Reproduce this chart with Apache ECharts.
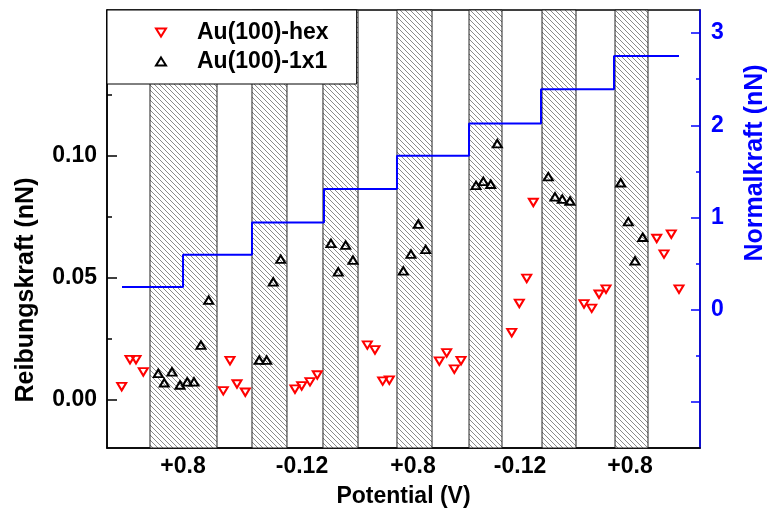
<!DOCTYPE html>
<html><head><meta charset="utf-8">
<script src="https://cdn.jsdelivr.net/npm/echarts@6/dist/echarts.min.js"></script>
<style>html,body{margin:0;padding:0;background:#fff}#c{width:767px;height:513px}</style>
</head><body><div id="c"></div>
<script>
// Au(100)-hex (red, down triangles): x position (arbitrary time units 0..100), friction force (nN)
const hexX = [2.48, 3.88, 4.89, 6.12, 19.61, 20.74, 21.92, 23.32, 31.70, 32.83, 34.23, 35.46, 43.90, 45.19, 46.49, 47.61, 56.04, 57.28, 58.57, 59.70, 68.25, 69.53, 70.78, 71.89, 80.44, 81.74, 82.97, 84.15, 92.70, 93.93, 95.16, 96.46];
const hexY = [0.0052, 0.0163, 0.0163, 0.0113, 0.0035, 0.0159, 0.0063, 0.0029, 0.0042, 0.0055, 0.0072, 0.0100, 0.0223, 0.0203, 0.0075, 0.0079, 0.0157, 0.0191, 0.0124, 0.0159, 0.0274, 0.0394, 0.0497, 0.0809, 0.0392, 0.0374, 0.0432, 0.0453, 0.0661, 0.0597, 0.0679, 0.0453];
// Au(100)-1x1 (black, up triangles)
const sqX = [8.65, 9.66, 10.96, 12.31, 13.54, 14.67, 15.85, 17.15, 25.68, 26.93, 28.04, 29.29, 37.77, 39.00, 40.25, 41.48, 49.97, 51.26, 52.50, 53.74, 62.23, 63.46, 64.71, 65.82, 74.42, 75.55, 76.78, 78.08, 86.63, 87.91, 89.04, 90.34];
const sqY = [0.0107, 0.0068, 0.0113, 0.0059, 0.0072, 0.0072, 0.0223, 0.0408, 0.0161, 0.0161, 0.0483, 0.0576, 0.0641, 0.0524, 0.0634, 0.0572, 0.0528, 0.0597, 0.0720, 0.0616, 0.0879, 0.0896, 0.0884, 0.1051, 0.0915, 0.0832, 0.0823, 0.0815, 0.0890, 0.0730, 0.0569, 0.0666];
// Normal force steps (nN)
const stepX = [2.53, 12.82, 24.45, 36.59, 48.90, 61.05, 73.19, 85.50, 96.46];
const stepY = [0.245, 0.597, 0.945, 1.31, 1.67, 2.02, 2.39, 2.75, 2.75];
// Hatched potential intervals
const bandStart = [7.25, 24.45, 36.42, 48.90, 61.05, 73.36, 85.67];
const bandEnd   = [18.55, 30.35, 42.33, 54.81, 66.61, 79.09, 91.23];
// Potential tick labels
const tickPos = [12.82, 32.88, 51.60, 69.65, 88.20];
const tickLabels = ['+0.8', '-0.12', '+0.8', '-0.12', '+0.8'];
const leftTicks = [0, 0.05, 0.10, 0.15];
const leftLabels = [0, 0.05, 0.10];
const leftMinor = [0.025, 0.075, 0.125];
const rightTicks = [-1, 0, 1, 2, 3];
const rightLabels = [0, 1, 2, 3];
const rightMinor = [-0.5, 0.5, 1.5, 2.5];

// hatch pattern
const pc = document.createElement('canvas');
pc.width = 5; pc.height = 5;
const g = pc.getContext('2d');
g.fillStyle = '#fff'; g.fillRect(0, 0, 5, 5);
g.strokeStyle = '#8a8a8a'; g.lineWidth = 1;
g.beginPath();
g.moveTo(-1, -1); g.lineTo(6, 6);
g.moveTo(-1, 4); g.lineTo(1, 6);
g.moveTo(4, -1); g.lineTo(6, 1);
g.stroke();

const FONT = "'Liberation Sans', Arial, sans-serif";
const DOWN = 'path://M0,0L10,0L5,8Z';
const UP = 'path://M5,0L10,8L0,8Z';
const chart = echarts.init(document.getElementById('c'), null, {renderer: 'canvas'});

const bands = bandStart.map((s, i) => [{xAxis: s}, {xAxis: bandEnd[i]}]);

const option = {
  animation: false,
  backgroundColor: '#fff',
  grid: {left: 107, right: 67, top: 10, bottom: 65, containLabel: false, outerBoundsMode: 'none',
    show: true, borderColor: '#000', borderWidth: 1.5, backgroundColor: 'transparent'},
  legend: {
    data: ['Au(100)-hex', 'Au(100)-1x1'],
    orient: 'vertical', left: 107, top: 10,
    padding: [11, 28, 11, 48],
    itemGap: 6, itemWidth: 10, itemHeight: 8,
    backgroundColor: '#fff', borderColor: '#000', borderWidth: 1,
    textStyle: {fontFamily: FONT, fontWeight: 'bold', fontSize: 23, color: '#000', padding: [0, 0, 0, 26]}
  },
  xAxis: {
    type: 'value', min: 0, max: 100,
    name: 'Potential (V)', nameLocation: 'middle', nameGap: 37,
    nameTextStyle: {fontFamily: FONT, fontWeight: 'bold', fontSize: 23, color: '#000'},
    axisLine: {show: true, onZero: false, lineStyle: {color: '#000', width: 1.5}},
    axisTick: {show: false},
    splitLine: {show: false},
    axisLabel: {
      customValues: tickPos, margin: 7,
      fontFamily: FONT, fontWeight: 'bold', fontSize: 23, color: '#000',
      formatter: v => { const i = tickPos.indexOf(v); return i >= 0 ? tickLabels[i] : ''; }
    }
  },
  yAxis: [
    {
      type: 'value', position: 'left', min: -0.02, max: 0.16,
      name: 'Reibungskraft (nN)', nameLocation: 'middle', nameGap: 68,
      nameTextStyle: {fontFamily: FONT, fontWeight: 'bold', fontSize: 25, color: '#000', padding: [0, 122, 0, 0]},
      axisLine: {show: true, onZero: false, lineStyle: {color: '#000', width: 1.5}},
      axisTick: {show: true, inside: true, length: 10, customValues: leftTicks, lineStyle: {color: '#000', width: 1.5}},
      splitLine: {show: false},
      axisLabel: {customValues: leftLabels, margin: 10, fontFamily: FONT, fontWeight: 'bold', fontSize: 23, color: '#000',
        formatter: v => v.toFixed(2)}
    },
    {
      type: 'value', position: 'right', min: -1.5, max: 3.25,
      name: 'Normalkraft (nN)', nameLocation: 'middle', nameGap: 43,
      nameTextStyle: {fontFamily: FONT, fontWeight: 'bold', fontSize: 25, color: '#0000ff', padding: [0, 0, 0, 132]},
      axisLine: {show: true, onZero: false, lineStyle: {color: '#0000ff', width: 1.5}},
      axisTick: {show: true, inside: true, length: 9, customValues: rightTicks, lineStyle: {color: '#0000ff', width: 1.5}},
      splitLine: {show: false},
      axisLabel: {customValues: rightLabels, margin: 11, fontFamily: FONT, fontWeight: 'bold', fontSize: 23, color: '#0000ff',
        formatter: v => String(v)}
    },
    {
      type: 'value', position: 'left', min: -0.02, max: 0.16,
      axisLine: {show: false}, splitLine: {show: false}, axisLabel: {show: false},
      axisTick: {show: true, inside: true, length: 5, customValues: leftMinor, lineStyle: {color: '#000', width: 1.5}}
    },
    {
      type: 'value', position: 'right', min: -1.5, max: 3.25,
      axisLine: {show: false}, splitLine: {show: false}, axisLabel: {show: false},
      axisTick: {show: true, inside: true, length: 4, customValues: rightMinor, lineStyle: {color: '#0000ff', width: 1.5}}
    }
  ],
  series: [
    {
      name: 'bands', type: 'line', data: [], z: 1, silent: true,
      markArea: {
        silent: true,
        itemStyle: {color: {image: pc, repeat: 'repeat'}, borderColor: '#222', borderWidth: 1},
        data: bands
      }
    },
    {
      name: 'Normalkraft', type: 'line', yAxisIndex: 1, step: 'end', showSymbol: false, symbol: 'none', z: 3,
      lineStyle: {color: '#0000ff', width: 2}, itemStyle: {color: '#0000ff'},
      data: stepX.map((x, i) => [x, stepY[i]])
    },
    {
      name: 'Au(100)-hex', type: 'scatter', z: 4,
      symbol: DOWN, symbolSize: [9, 7.5],
      itemStyle: {color: 'transparent', borderColor: '#ff0000', borderWidth: 2, opacity: 1},
      data: hexX.map((x, i) => [x, hexY[i]])
    },
    {
      name: 'Au(100)-1x1', type: 'scatter', z: 4,
      symbol: UP, symbolSize: [9, 7.5],
      itemStyle: {color: 'transparent', borderColor: '#000000', borderWidth: 2, opacity: 1},
      data: sqX.map((x, i) => [x, sqY[i]])
    }
  ]
};
chart.setOption(option);
</script>
</body></html>
